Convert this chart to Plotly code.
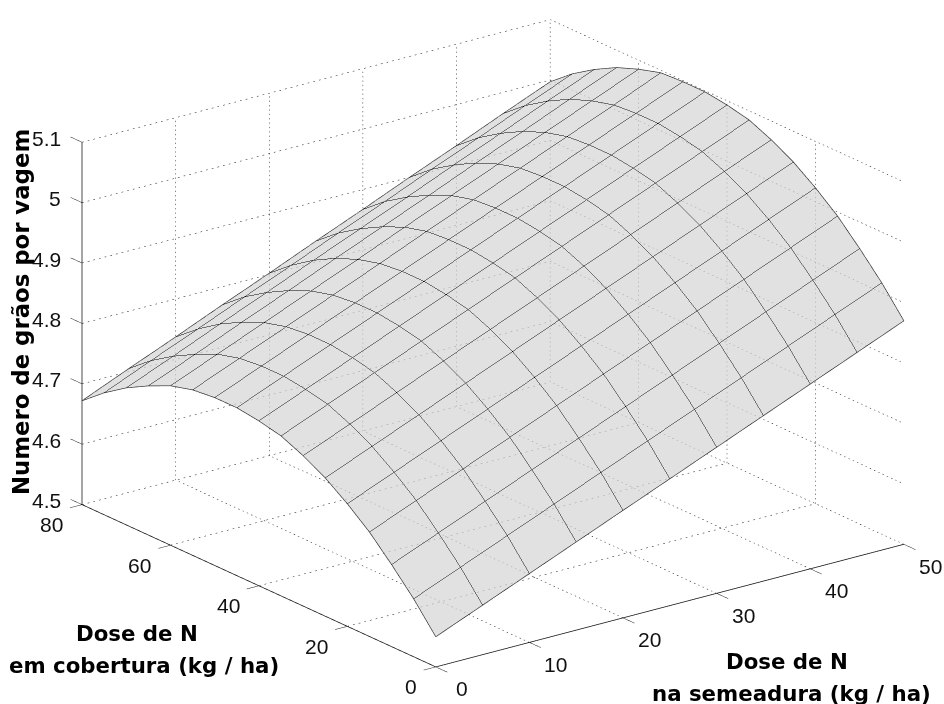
import plotly.graph_objects as go

dose_semeadura = [0, 5, 10, 15, 20, 25, 30, 35, 40, 45, 50]
dose_cobertura = [0, 5, 10, 15, 20, 25, 30, 35, 40, 45, 50, 55, 60, 65, 70, 75, 80]
graos = [
 [4.550,4.582,4.614,4.646,4.678,4.710,4.742,4.774,4.806,4.838,4.870],
 [4.596,4.628,4.660,4.692,4.724,4.756,4.788,4.820,4.852,4.884,4.916],
 [4.636,4.668,4.700,4.732,4.764,4.796,4.828,4.860,4.892,4.924,4.956],
 [4.673,4.705,4.737,4.769,4.801,4.833,4.865,4.897,4.929,4.961,4.993],
 [4.703,4.735,4.767,4.799,4.831,4.863,4.895,4.927,4.959,4.991,5.023],
 [4.729,4.761,4.793,4.825,4.857,4.889,4.921,4.953,4.985,5.017,5.049],
 [4.749,4.781,4.813,4.845,4.877,4.909,4.941,4.973,5.005,5.037,5.069],
 [4.765,4.797,4.829,4.861,4.893,4.925,4.957,4.989,5.021,5.053,5.085],
 [4.773,4.805,4.837,4.869,4.901,4.933,4.965,4.997,5.029,5.061,5.093],
 [4.778,4.810,4.842,4.874,4.906,4.938,4.970,5.002,5.034,5.066,5.098],
 [4.778,4.810,4.842,4.874,4.906,4.938,4.970,5.002,5.034,5.066,5.098],
 [4.774,4.806,4.838,4.870,4.902,4.935,4.967,4.999,5.031,5.063,5.096],
 [4.764,4.796,4.828,4.860,4.892,4.925,4.957,4.989,5.021,5.053,5.085],
 [4.747,4.779,4.812,4.844,4.877,4.909,4.941,4.974,5.006,5.039,5.071],
 [4.727,4.759,4.792,4.824,4.857,4.889,4.921,4.954,4.986,5.019,5.051],
 [4.702,4.735,4.767,4.800,4.832,4.865,4.897,4.930,4.962,4.995,5.027],
 [4.672,4.705,4.737,4.770,4.802,4.835,4.867,4.900,4.932,4.965,4.997],
]
x_ticks = [0, 10, 20, 30, 40, 50]
y_ticks = [0, 20, 40, 60, 80]
z_ticks = [4.5, 4.6, 4.7, 4.8, 4.9, 5.0, 5.1]
z_labels = ["4.5", "4.6", "4.7", "4.8", "4.9", "5", "5.1"]

x0, x1 = x_ticks[0], x_ticks[-1]
y0, y1 = y_ticks[0], y_ticks[-1]
z0, z1 = z_ticks[0], z_ticks[-1]
X_TICK_LEN, Y_TICK_LEN = 1.3, 2.6

gx, gy, gz = [], [], []
DOT_STEP = 0.012
def seg(a, b):
    n = int(1 / DOT_STEP)
    for i in range(n):
        s, e = i / n, (i + 0.3) / n
        gx.extend([a[0] + (b[0]-a[0])*s, a[0] + (b[0]-a[0])*e, None])
        gy.extend([a[1] + (b[1]-a[1])*s, a[1] + (b[1]-a[1])*e, None])
        gz.extend([a[2] + (b[2]-a[2])*s, a[2] + (b[2]-a[2])*e, None])
for t in x_ticks[1:]:
    seg((t, y0, z0), (t, y1, z0))
    seg((t, y1, z0), (t, y1, z1))
for t in y_ticks[1:]:
    seg((x0, t, z0), (x1, t, z0))
    seg((x1, t, z0), (x1, t, z1))
for t in z_ticks[1:]:
    seg((x0, y1, t), (x1, y1, t))
    seg((x1, y1, t), (x1, y0, t))

tx, ty, tz = [], [], []
def tick(a, b):
    tx.extend([a[0], b[0], None]); ty.extend([a[1], b[1], None]); tz.extend([a[2], b[2], None])
for t in x_ticks:
    tick((t, y0, z0), (t, y0 - Y_TICK_LEN, z0))
for t in y_ticks:
    tick((x0, t, z0), (x0 - X_TICK_LEN, t, z0))
for t in z_ticks:
    tick((x0, y1, t), (x0, y1 + Y_TICK_LEN, t))

fig = go.Figure()
fig.add_trace(go.Scatter3d(x=gx, y=gy, z=gz, mode="lines", showlegend=False, hoverinfo="skip",
                           connectgaps=False, line=dict(color="#111111", width=1)))
fig.add_trace(go.Scatter3d(x=tx, y=ty, z=tz, mode="lines", showlegend=False, hoverinfo="skip",
                           connectgaps=False, line=dict(color="#222222", width=1)))
fig.add_trace(go.Scatter3d(x=[x1, x0, x0, x0], y=[y0, y0, y1, y1], z=[z0, z0, z0, z1], mode="lines",
                           showlegend=False, hoverinfo="skip", line=dict(color="#111111", width=1.5)))
fig.add_trace(go.Surface(x=dose_semeadura, y=dose_cobertura, z=graos, showscale=False, opacity=0.7,
                         colorscale=[[0, "#d3d3d3"], [1, "#d3d3d3"]], hoverinfo="skip",
                         lighting=dict(ambient=1, diffuse=0, specular=0, roughness=1, fresnel=0),
                         contours=dict(
                             x=dict(show=True, start=x0, end=x1, size=5, color="#000000", width=1),
                             y=dict(show=True, start=y0, end=y1, size=5, color="#000000", width=1),
                             z=dict(show=False))))
# outline of the surface, taken from the same table
ex = [dose_semeadura[0]] * len(dose_cobertura) + dose_semeadura + [dose_semeadura[-1]] * len(dose_cobertura) + dose_semeadura[::-1]
ey = dose_cobertura + [dose_cobertura[-1]] * len(dose_semeadura) + dose_cobertura[::-1] + [dose_cobertura[0]] * len(dose_semeadura)
ez = [r[0] for r in graos] + graos[-1] + [r[-1] for r in graos][::-1] + graos[0][::-1]
fig.add_trace(go.Scatter3d(x=ex, y=ey, z=ez, mode="lines", showlegend=False, hoverinfo="skip",
                           line=dict(color="#333333", width=1.5)))

def axis(rng):
    return dict(title=dict(text=""), range=rng, tickmode="array", tickvals=[], showticklabels=False,
                showgrid=False, showbackground=False, showline=False, zeroline=False, showspikes=False,
                ticks="")

tick_font = dict(family="Liberation Sans", size=21, color="#111111")
scene_ann = []
for t in x_ticks:
    scene_ann.append(dict(x=t, y=y0, z=z0, text=str(t), xshift=26.5, yshift=-22, xanchor="center"))
for t in y_ticks:
    scene_ann.append(dict(x=x0, y=t, z=z0, text=str(t), xshift=-17, yshift=-20, xanchor="right"))
for t, l in zip(z_ticks, z_labels):
    scene_ann.append(dict(x=x0, y=y1, z=t, text=l, xshift=-19, yshift=4, xanchor="right"))
for a in scene_ann:
    a.update(showarrow=False, font=tick_font, yanchor="middle")

SCALE = 1.718
xr = [-1.5, 50.2]
yr = [-3, 83]
zr = [4.49, 5.11]
fig.update_layout(
    width=944, height=704, margin=dict(l=0, r=0, t=0, b=0), paper_bgcolor="white",
    scene=dict(
        domain=dict(x=[43/944, 1], y=[21/704, 1]),
        xaxis=axis(xr),
        yaxis=axis(yr),
        zaxis=axis(zr),
        aspectmode="manual",
        aspectratio=dict(x=SCALE*(xr[1]-xr[0])/(x1-x0), y=SCALE*(yr[1]-yr[0])/(y1-y0),
                         z=0.6585*SCALE*(zr[1]-zr[0])/(z1-z0)),
        annotations=scene_ann,
        camera=dict(projection=dict(type="orthographic"),
                    center=dict(x=0.0153, y=-0.0119, z=0.0106), up=dict(x=0, y=0, z=1),
                    eye=dict(x=-1.1167, y=-1.5099, z=0.7046)),
    ),
    annotations=[
        dict(text="<b>Numero de grãos por vagem</b>", x=21/944, y=1-312/704, textangle=-90, font=dict(size=22.8)),
        dict(text="<b>Dose de N</b>", x=136.5/944, y=1-633/704, font=dict(size=21.3)),
        dict(text="<b>em cobertura (kg / ha)</b>", x=143.5/944, y=1-665/704, font=dict(size=21.3)),
        dict(text="<b>Dose de N</b>", x=787/944, y=1-661/704, font=dict(size=21.3)),
        dict(text="<b>na semeadura (kg / ha)</b>", x=791/944, y=1-693/704, font=dict(size=21.3)),
    ],
)
for a in fig.layout.annotations:
    a.update(xref="paper", yref="paper", showarrow=False, xanchor="center", yanchor="middle")
    a.font.update(family="DejaVu Sans", color="black")
fig.write_html("out.html", config=dict(displayModeBar=False),
               post_script="document.body.style.margin='0';")
